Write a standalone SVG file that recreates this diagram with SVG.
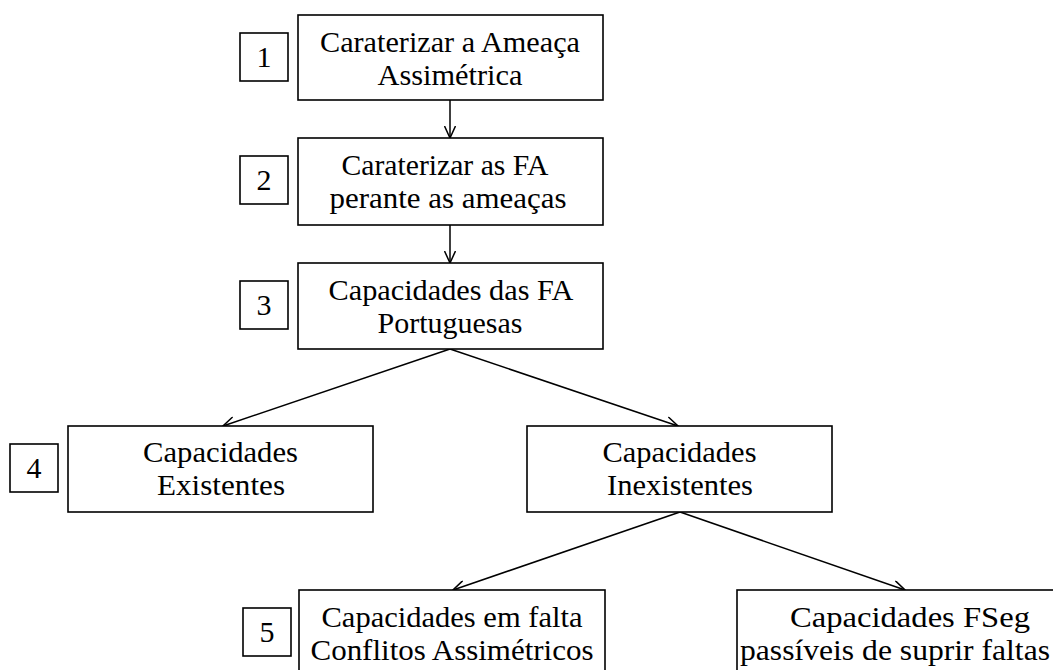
<svg xmlns="http://www.w3.org/2000/svg" width="1053" height="670" viewBox="0 0 1053 670">
<style>
.box{fill:#fff;stroke:#000;stroke-width:1.6}
.t{font-family:"Liberation Serif","Times New Roman",serif;font-size:30px;fill:#000;text-anchor:middle}
.c{fill:none;stroke:#000;stroke-width:1.5}
</style>
<defs>
<marker id="ah" viewBox="0 0 13 12" refX="12.5" refY="6" markerWidth="13" markerHeight="12" markerUnits="userSpaceOnUse" orient="auto">
<path d="M0.5,0.5 L12.5,6 L0.5,11.5" fill="none" stroke="#000" stroke-width="1.5"/>
</marker>
</defs>
<rect width="1053" height="670" fill="#fff"/>
<g id="connectors">
<line class="c" x1="450" y1="100" x2="450" y2="138" marker-end="url(#ah)"/>
<line class="c" x1="450" y1="225" x2="450" y2="263" marker-end="url(#ah)"/>
<line class="c" x1="450" y1="349" x2="223" y2="426" marker-end="url(#ah)"/>
<line class="c" x1="450" y1="349" x2="678" y2="426" marker-end="url(#ah)"/>
<line class="c" x1="680" y1="512" x2="453" y2="590" marker-end="url(#ah)"/>
<line class="c" x1="680" y1="512" x2="905" y2="590" marker-end="url(#ah)"/>
</g>
<g id="n1">
<rect class="box" x="298" y="15" width="305" height="85"/>
<text class="t" x="450" y="52" textLength="260" lengthAdjust="spacingAndGlyphs">Caraterizar a Ameaça</text>
<text class="t" x="450" y="85" textLength="145" lengthAdjust="spacingAndGlyphs">Assimétrica</text>
</g>
<g id="l1">
<rect class="box" x="240" y="33" width="48" height="48"/>
<text class="t" x="264" y="67">1</text>
</g>
<g id="n2">
<rect class="box" x="298" y="138" width="305" height="87"/>
<text class="t" x="445" y="175" textLength="207" lengthAdjust="spacingAndGlyphs">Caraterizar as FA</text>
<text class="t" x="448" y="208" textLength="237" lengthAdjust="spacingAndGlyphs">perante as ameaças</text>
</g>
<g id="l2">
<rect class="box" x="240" y="156" width="48" height="48"/>
<text class="t" x="264" y="190">2</text>
</g>
<g id="n3">
<rect class="box" x="298" y="263" width="305" height="86"/>
<text class="t" x="451" y="300" textLength="245" lengthAdjust="spacingAndGlyphs">Capacidades das FA</text>
<text class="t" x="450" y="333" textLength="145" lengthAdjust="spacingAndGlyphs">Portuguesas</text>
</g>
<g id="l3">
<rect class="box" x="240" y="281" width="48" height="48"/>
<text class="t" x="264" y="315">3</text>
</g>
<g id="n4">
<rect class="box" x="68" y="426" width="305" height="86"/>
<text class="t" x="220.5" y="462" textLength="155" lengthAdjust="spacingAndGlyphs">Capacidades</text>
<text class="t" x="221" y="495" textLength="128" lengthAdjust="spacingAndGlyphs">Existentes</text>
</g>
<g id="l4">
<rect class="box" x="10" y="444" width="48" height="48"/>
<text class="t" x="34" y="478">4</text>
</g>
<g id="n4b">
<rect class="box" x="527" y="426" width="305" height="86"/>
<text class="t" x="679.5" y="462" textLength="154" lengthAdjust="spacingAndGlyphs">Capacidades</text>
<text class="t" x="680" y="495" textLength="146" lengthAdjust="spacingAndGlyphs">Inexistentes</text>
</g>
<g id="n5a">
<rect class="box" x="299" y="590" width="306" height="100"/>
<text class="t" x="452" y="627" textLength="261" lengthAdjust="spacingAndGlyphs">Capacidades em falta</text>
<text class="t" x="452" y="660" textLength="283" lengthAdjust="spacingAndGlyphs">Conflitos Assimétricos</text>
</g>
<g id="l5">
<rect class="box" x="243" y="608" width="48" height="48"/>
<text class="t" x="267" y="642">5</text>
</g>
<g id="n5b">
<rect class="box" x="737" y="590" width="340" height="100"/>
<text class="t" x="910" y="627" textLength="240" lengthAdjust="spacingAndGlyphs">Capacidades FSeg</text>
<text class="t" x="895" y="660" textLength="310" lengthAdjust="spacingAndGlyphs">passíveis de suprir faltas</text>
</g>
</svg>
